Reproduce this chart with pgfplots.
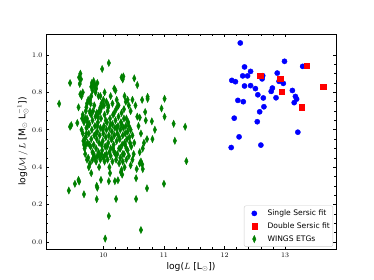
\documentclass[border=0pt]{standalone}
\usepackage{fontspec}
\setmainfont{DejaVu Sans}
\usepackage{pgfplots}
\pgfplotsset{compat=1.18}
\definecolor{mplgreen}{RGB}{0,128,0}
\begin{document}
\begin{tikzpicture}
\path[use as bounding box] (-46pt,-31pt) rectangle (328pt,249pt);
\begin{axis}[
  at={(0pt,0pt)}, anchor=south west,
  scale only axis, width=290pt, height=215pt,
  xmin=9.053, xmax=13.84, ymin=-0.0375, ymax=1.112,
  xtick={10,11,12,13}, ytick={0,0.2,0.4,0.6,0.8,1.0},
  minor x tick num=4, minor y tick num=3,
  tick align=inside, xtick pos=both, ytick pos=both,
  major tick length=2.9pt, minor tick length=1.7pt,
  axis line style={line width=0.8pt},
  every tick/.style={black, line width=0.6pt},
  yticklabel style={/pgf/number format/.cd, fixed, fixed zerofill, precision=1},
  xticklabel style={/pgf/number format/.cd, fixed, precision=0},
  ticklabel style={font=\fontsize{7.5}{8}\selectfont},
  xlabel={log($L$ [L$_\odot$])},
  ylabel={log($\mathcal{M}\,/\,L$ [M$_\odot$ L$_\odot^{-1}$])},
  label style={font=\fontsize{9.2}{11}\selectfont},
  xlabel style={at={(axis description cs:0.5,-0.084)}, anchor=center},
  ylabel style={at={(axis description cs:-0.079,0.5)}, anchor=center},
  legend style={at={(0.99,0.01)}, anchor=south east, draw=black!20, rounded corners=2pt,
    font=\fontsize{7.6}{9}\selectfont, row sep=1.6pt, inner xsep=1pt, inner ysep=2pt},
  legend cell align=left,
  legend image code/.code={\path (0pt,0pt) (20pt,0pt); \draw[#1] plot coordinates {(9pt,0pt)};},
]
\addplot[only marks, mark=*, mark size=2.6pt, draw=blue, fill=blue] coordinates {
(12.26,1.064)(12.99,0.966)(12.33,0.936)(13.29,0.939)(12.43,0.912)(12.87,0.903)
(12.30,0.888)(12.38,0.888)(12.12,0.864)(12.18,0.857)(12.63,0.889)(12.62,0.872)
(12.90,0.859)(12.97,0.848)(12.33,0.834)(12.43,0.836)(12.51,0.820)(12.79,0.823)
(12.77,0.805)(12.55,0.787)(12.64,0.770)(12.85,0.771)(13.12,0.810)(13.17,0.778)
(13.19,0.764)(13.15,0.745)(12.22,0.757)(12.31,0.750)(12.65,0.723)(12.58,0.696)
(12.16,0.662)(12.54,0.643)(13.21,0.587)(12.24,0.562)(12.60,0.518)(12.11,0.505)
};
\addlegendentry{Single Sersic fit}
\addplot[only marks, mark=square*, mark size=2.6pt, draw=red, fill=red] coordinates {
(12.59,0.891)(12.92,0.871)(13.35,0.943)(12.94,0.803)(13.63,0.832)(13.27,0.721)
};
\addlegendentry{Double Sersic fit}
\addplot[only marks, mark=diamond*, mark size=3.6pt, draw=mplgreen, fill=mplgreen, mark options={xscale=0.64}] coordinates {
(9.60,0.88)(9.62,0.90)(9.63,0.87)(9.61,0.845)(9.64,0.78)(9.62,0.79)(9.66,0.80)(9.72,0.72)
(9.75,0.76)(9.73,0.74)(9.78,0.70)(9.80,0.83)(9.81,0.85)(9.83,0.84)(9.84,0.86)(9.85,0.83)
(9.86,0.84)(9.82,0.81)(9.88,0.82)(9.90,0.85)(9.87,0.80)(9.80,0.78)(9.78,0.76)(9.92,0.78)
(9.95,0.72)(9.93,0.70)(9.97,0.74)(9.89,0.69)(9.91,0.67)(9.98,0.925)(10.09,0.957)
(9.27,0.739)(9.45,0.85)(9.45,0.616)(9.47,0.625)(9.57,0.636)(9.59,0.72)(9.65,0.66)(9.68,0.64)
(9.66,0.68)(9.70,0.66)(9.64,0.60)(9.69,0.55)(9.71,0.52)(9.67,0.54)(9.72,0.58)(9.74,0.62)
(9.43,0.275)(9.53,0.311)(9.59,0.332)(9.60,0.323)(9.68,0.255)(9.80,0.368)(9.89,0.30)(9.90,0.29)
(9.89,0.229)(9.96,0.332)(10.03,0.018)(10.09,0.139)(10.11,0.368)(10.09,0.325)(10.19,0.325)
(10.24,0.33)(10.21,0.230)(10.29,0.373)(10.31,0.36)(10.54,0.341)(10.54,0.23)(10.62,0.064)
(10.72,0.287)(11.0,0.311)(11.37,0.432)
(9.73,0.44)(9.78,0.42)(9.82,0.44)(9.84,0.47)(9.86,0.45)(9.88,0.43)(9.90,0.46)(9.92,0.48)
(9.95,0.44)(9.97,0.47)(10.0,0.45)(10.02,0.43)(10.05,0.47)(10.07,0.44)(10.12,0.46)(10.15,0.43)
(10.18,0.48)(10.21,0.44)(10.23,0.47)(10.26,0.42)(10.28,0.45)(10.32,0.43)(10.35,0.40)(10.34,0.47)
(10.38,0.44)(10.42,0.46)(10.45,0.41)(10.48,0.44)(10.50,0.47)(10.55,0.39)(10.60,0.42)(10.62,0.43)
(10.64,0.415)(10.65,0.39)(10.30,0.385)(10.10,0.40)(9.93,0.40)(9.76,0.40)
(9.69,0.50)(9.71,0.56)(9.72,0.61)(9.73,0.66)(9.74,0.53)(9.76,0.58)(9.77,0.63)(9.78,0.69)
(9.79,0.51)(9.80,0.55)(9.81,0.60)(9.82,0.65)(9.83,0.70)(9.84,0.52)(9.85,0.57)(9.86,0.62)
(9.87,0.67)(9.88,0.50)(9.89,0.55)(9.90,0.59)(9.91,0.64)(9.92,0.69)(9.93,0.53)(9.94,0.57)
(9.95,0.61)(9.96,0.66)(9.97,0.72)(9.98,0.49)(9.99,0.54)(10.00,0.58)(10.01,0.62)(10.02,0.68)
(10.03,0.51)(10.04,0.56)(10.05,0.60)(10.06,0.64)(10.07,0.70)(10.08,0.53)(10.09,0.57)(10.10,0.61)
(10.11,0.66)(10.12,0.50)(10.13,0.55)(10.14,0.59)(10.15,0.63)(10.16,0.68)(10.17,0.52)(10.18,0.57)
(10.19,0.61)(10.20,0.65)(10.21,0.71)(10.22,0.54)(10.23,0.58)(10.24,0.62)(10.25,0.67)(10.26,0.50)
(10.27,0.55)(10.28,0.60)(10.29,0.64)(10.30,0.69)(10.31,0.52)(10.32,0.57)(10.33,0.61)(10.34,0.66)
(10.35,0.53)(10.36,0.58)(10.37,0.62)(10.38,0.50)(10.39,0.55)(10.40,0.59)(10.41,0.64)(10.43,0.56)
(10.45,0.60)(10.46,0.51)(10.48,0.57)(10.51,0.53)
(9.70,0.47)(9.74,0.64)(9.77,0.52)(9.80,0.68)(9.82,0.48)(9.85,0.73)(9.88,0.58)(9.90,0.62)
(9.93,0.46)(9.95,0.70)(9.97,0.52)(9.99,0.60)(10.01,0.73)(10.02,0.46)(10.04,0.65)(10.06,0.51)
(10.08,0.72)(10.10,0.48)(10.12,0.63)(10.14,0.55)(10.16,0.50)(10.18,0.69)(10.20,0.47)(10.22,0.61)
(10.24,0.73)(10.26,0.56)(10.28,0.50)(10.30,0.63)(10.32,0.47)(10.34,0.71)(10.36,0.52)(10.38,0.66)
(10.40,0.49)(10.42,0.62)(10.44,0.53)(9.66,0.58)(9.68,0.52)(9.71,0.70)(9.75,0.45)(9.79,0.74)
(10.05,0.75)(10.08,0.73)(10.12,0.78)(10.15,0.74)(10.18,0.82)(10.20,0.81)(10.22,0.76)(10.25,0.73)
(10.30,0.88)(10.33,0.885)(10.32,0.87)(10.35,0.78)(10.37,0.75)(10.40,0.76)(10.42,0.73)(10.45,0.70)
(10.48,0.76)(10.51,0.875)(10.56,0.839)(10.53,0.73)(10.60,0.665)(10.64,0.76)(10.69,0.695)(10.70,0.65)
(10.73,0.776)(10.73,0.765)(10.80,0.645)(10.85,0.60)(10.96,0.714)(11.01,0.766)(11.01,0.670)(11.16,0.632)
(11.35,0.616)(11.18,0.541)(10.81,0.55)(10.72,0.55)(10.67,0.53)(10.65,0.50)(10.60,0.48)(10.62,0.58)
(10.58,0.62)(10.56,0.67)(9.95,0.78)(10.00,0.76)(10.02,0.80)
};
\addlegendentry{WINGS ETGs}
\end{axis}
\end{tikzpicture}
\end{document}
